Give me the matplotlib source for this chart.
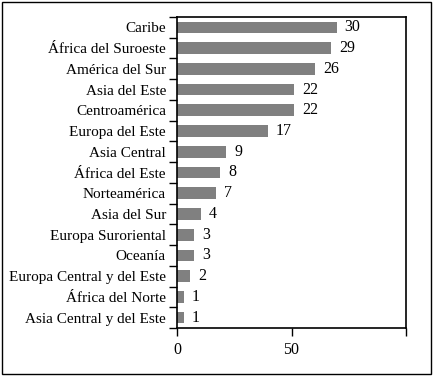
import numpy as np
import matplotlib
matplotlib.use("Agg")
from matplotlib import pyplot as plt
from matplotlib.patches import Rectangle

regions = ["Caribe", "África del Suroeste", "América del Sur", "Asia del Este",
           "Centroamérica", "Europa del Este", "Asia Central", "África del Este",
           "Norteamérica", "Asia del Sur", "Europa Suroriental", "Oceanía",
           "Europa Central y del Este", "África del Norte", "Asia Central y del Este"]
# bar lengths
bar_values = [69.7, 67.2, 60.3, 51.1, 51.1, 39.7, 21.4, 18.8, 17.0, 10.5, 7.4, 7.4, 5.7, 3.0, 3.0]
# numbers printed beside the bars
bar_labels = [30, 29, 26, 22, 22, 17, 9, 8, 7, 4, 3, 3, 2, 1, 1]
x_ticks = [0, 50, 100]
x_tick_labels = ["0", "50", ""]

plt.rcParams['font.family'] = ['Liberation Serif', 'DejaVu Serif']

W, H = 434, 376
fig = plt.figure(figsize=(W / 100, H / 100), dpi=100)
ax = fig.add_axes([177 / W, 1 - 328 / H, (406 - 177) / W, (328 - 17) / H])

n = len(regions)
y = np.arange(n)
ax.barh(y, bar_values, height=0.56, color="#808080")
for yi, v, lab in zip(y, bar_values, bar_labels):
    ax.text(v + 3.5, yi, str(lab), va="center", ha="left", fontsize=11.5)

ax.set_ylim(n - 0.5, -0.5)
ax.set_xlim(0, 100)
ax.set_yticks(y)
ax.set_yticklabels(regions, fontsize=11)
ax.tick_params(axis="y", which="major", length=0, pad=8)
ax.set_yticks(np.arange(n + 1) - 0.5, minor=True)
ax.tick_params(axis="y", which="minor", length=6, width=1, direction="out")
ax.set_xticks(x_ticks)
ax.set_xticklabels(x_tick_labels, fontsize=11.5)
ax.tick_params(axis="x", length=6, width=1, direction="out", pad=4)
for s in ax.spines.values():
    s.set_linewidth(1.2)

# outer frame
fig.patches.append(Rectangle((2 / W, 2 / H), (431 - 2) / W, (374 - 2) / H,
                             transform=fig.transFigure, fill=False,
                             edgecolor="black", linewidth=1))

fig.savefig("out.png", dpi=100)
